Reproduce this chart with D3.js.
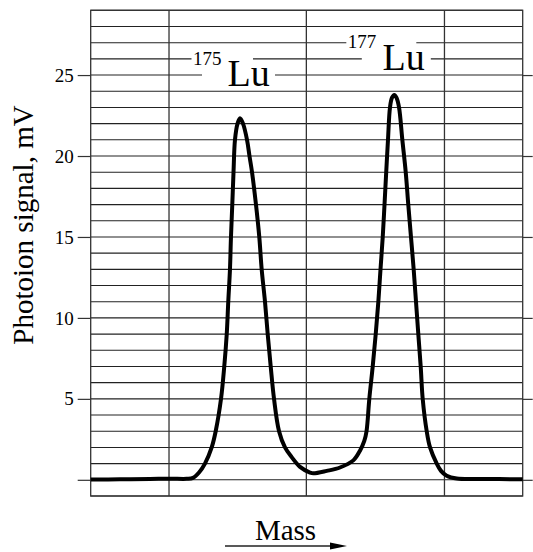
<!DOCTYPE html>
<html><head><meta charset="utf-8">
<script src="https://cdn.jsdelivr.net/npm/d3@7"></script>
<style>body{margin:0;background:#fff}svg{display:block}text{font-family:"Liberation Serif","Times New Roman",serif;fill:#000}</style>
</head><body><svg id="c" width="533" height="552"></svg>
<script>
// ---- data ----
const massValues = [173.065,173.445,173.833,174.093,174.309,174.391,174.469,174.546,174.633,174.685,
  174.754,174.796,174.828,174.848,174.870,174.883,174.900,174.916,174.935,174.968,
  175.000,175.039,175.091,175.123,175.156,175.207,175.250,175.281,175.324,175.359,
  175.398,175.441,175.506,175.583,175.670,175.778,175.907,175.950,176.124,176.296,
  176.469,176.555,176.611,176.640,176.676,176.720,176.759,176.793,176.821,176.850,
  176.873,176.895,176.918,176.944,176.970,177.000,177.028,177.061,177.104,177.148,
  177.181,177.216,177.251,177.281,177.311,177.342,177.368,177.420,177.463,177.550,
  177.605,177.679,177.809,178.111,178.664];
const signalValues = [0.02,0.03,0.05,0.07,0.06,0.12,0.45,1.0,2.0,3.0,
  5.0,7.0,9.0,11.0,13.0,15.0,17.0,19.0,21.0,22.0,
  22.33,22.0,21.0,20.0,19.0,17.0,15.0,13.0,11.0,9.0,
  7.0,5.0,3.0,2.0,1.4,0.8,0.45,0.4,0.55,0.76,
  1.2,1.8,2.4,3.0,5.0,7.0,9.0,11.0,13.0,15.0,
  17.0,19.0,21.0,23.0,23.6,23.77,23.6,23.0,21.0,19.0,
  17.0,15.0,13.0,11.0,9.0,7.0,5.0,3.0,2.0,1.0,
  0.55,0.25,0.08,0.05,0.04];
const massDomain = [173.065, 178.664];
const signalDomain = [-1, 29];
const verticalGrid = [174.08, 175.86, 177.65];
const yTicks = [0, 5, 10, 15, 20, 25];
const peakLabels = [
  {mass: 175, iso: "175", el: "Lu"},
  {mass: 177, iso: "177", el: "Lu"}
];
const yTitle = "Photoion signal, mV";
const xTitle = "Mass";

// ---- layout ----
const FONT = '"Liberation Serif","Times New Roman",serif';
const svg = d3.select("#c");
const L = 90.7, R = 522.7, T = 10.3, B = 496;
const x = d3.scaleLinear().domain(massDomain).range([L, R]);
const y = d3.scaleLinear().domain(signalDomain).range([B, T]);

// horizontal grid (every 1 mV)
svg.append("g").selectAll("line").data(d3.range(signalDomain[0], signalDomain[1] + 1))
  .join("line").attr("x1", L).attr("x2", R).attr("y1", d => y(d)).attr("y2", d => y(d))
  .attr("stroke", "#222").attr("stroke-width", 1.1);
// vertical grid
svg.append("g").selectAll("line").data(verticalGrid)
  .join("line").attr("x1", d => x(d)).attr("x2", d => x(d)).attr("y1", T).attr("y2", B)
  .attr("stroke", "#333").attr("stroke-width", 1.3);
// border
svg.append("rect").attr("x", L).attr("y", T).attr("width", R - L).attr("height", B - T)
  .attr("fill", "none").attr("stroke", "#333").attr("stroke-width", 1.3);

// axes
const ax = svg.append("g").attr("transform", `translate(${L},0)`)
  .call(d3.axisLeft(y).tickValues(yTicks).tickSize(13).tickPadding(4)
    .tickFormat(d => d === 0 ? "" : d));
ax.attr("font-family", FONT).attr("font-size", 19);
ax.select(".domain").remove();
ax.selectAll("line").attr("stroke", "#333").attr("stroke-width", 1.2);
ax.selectAll("text").attr("font-family", FONT).attr("font-size", 19).attr("fill", "#000");
const axR = svg.append("g").attr("transform", `translate(${R},0)`)
  .call(d3.axisRight(y).tickValues(yTicks).tickSize(10).tickFormat(""));
axR.select(".domain").remove();
axR.selectAll("line").attr("stroke", "#333").attr("stroke-width", 1.2);

// label knockouts & labels
const lab = svg.append("g");
// 175
const p1 = x(peakLabels[0].mass);
lab.append("rect").attr("x", p1 - 48.5).attr("y", 50).attr("width", 61.5).attr("height", 16).attr("fill", "#fff");
lab.append("rect").attr("x", p1 - 38).attr("y", 67).attr("width", 73).attr("height", 17).attr("fill", "#fff");
lab.append("text").attr("x", p1 - 47).attr("y", 65).style("font-size", "19px").text(peakLabels[0].iso);
lab.append("text").attr("x", p1 - 12.5).attr("y", 86).style("font-size", "38px").text(peakLabels[0].el);
// 177
const p2 = x(peakLabels[1].mass);
lab.append("rect").attr("x", p2 - 48).attr("y", 36).attr("width", 70).attr("height", 14).attr("fill", "#fff");
lab.append("rect").attr("x", p2 - 32.5).attr("y", 52).attr("width", 69).attr("height", 14).attr("fill", "#fff");
lab.append("text").attr("x", p2 - 46.5).attr("y", 48).style("font-size", "19px").text(peakLabels[1].iso);
lab.append("text").attr("x", p2 - 11.8).attr("y", 70).style("font-size", "38px").text(peakLabels[1].el);

// curve
const pts = massValues.map((m, i) => [m, signalValues[i]]);
svg.append("path").datum(pts)
  .attr("d", d3.line().x(d => x(d[0])).y(d => y(d[1])).curve(d3.curveCatmullRom.alpha(0.5)))
  .attr("fill", "none").attr("stroke", "#000").attr("stroke-width", 4).attr("stroke-linejoin", "round");

// titles
svg.append("text").attr("transform", "translate(33,225) rotate(-90)").attr("text-anchor", "middle")
  .style("font-size", "29px").text(yTitle);
svg.append("text").attr("x", 285.5).attr("y", 540).attr("text-anchor", "middle")
  .style("font-size", "29px").text(xTitle);
// arrow
svg.append("line").attr("x1", 225).attr("x2", 334).attr("y1", 546).attr("y2", 546)
  .attr("stroke", "#222").attr("stroke-width", 1.5);
svg.append("path").attr("d", "M330,542.5 L347,546 L330,549.5 Z").attr("fill", "#000");
</script></body></html>
